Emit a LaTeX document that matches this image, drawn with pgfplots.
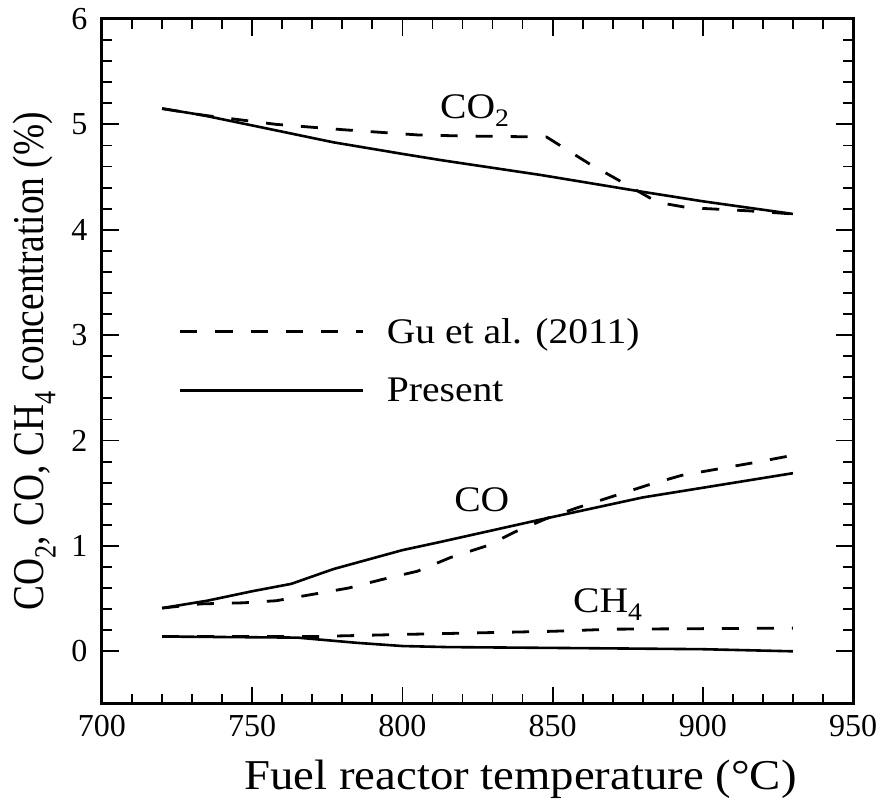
\documentclass[border=0pt]{standalone}
\usepackage{fontspec}
\setmainfont{Liberation Serif}
\newfontfamily\widefont{Liberation Serif}[FakeStretch=1.1]
\newfontfamily\narrowfont{Liberation Serif}[FakeStretch=0.85]
\usepackage{pgfplots}
\pgfplotsset{compat=1.18}

\tikzset{
  gu/.style={black, line width=2.8pt, dash pattern=on 17pt off 18pt},
  present/.style={black, line width=2.6pt},
  lbl/.style={anchor=base west, inner sep=0pt, font=\widefont\fontsize{36}{36}\selectfont},
}

\begin{document}
\begin{tikzpicture}
\begin{axis}[
    name=ax,
    scale only axis,
    width=751pt,
    height=685pt,
    xmin=700, xmax=950,
    ymin=-0.5, ymax=6,
    xtick={700,750,...,950},
    ytick={0,1,...,6},
    minor x tick num=4,
    minor y tick num=4,
    tick align=inside,
    major tick length=17pt,
    minor tick length=10pt,
    tick style={black, line width=1.8pt},
    axis line style={line width=3pt},
    /pgf/number format/assume math mode=true,
    ticklabel style={font=\fontsize{32}{32}\selectfont},
    xticklabel style={yshift=-8pt},
    yticklabel style={xshift=-11pt},
    xlabel={Fuel reactor temperature (°C)},
    ylabel={CO\textsubscript{2}, CO, CH\textsubscript{4} concentration (\%)},
    xlabel style={font=\widefont\fontsize{42.5}{42.5}\selectfont, xshift=43pt, yshift=-16pt},
    ylabel style={font=\narrowfont\fontsize{44}{44}\selectfont, yshift=9pt},
    legend style={draw=none, fill=none, at={(axis cs:724.6,3.18)}, anchor=north west,
      font=\widefont\fontsize{36}{36}\selectfont, row sep=33pt, column sep=23pt,
      nodes={inner sep=0pt}},
    legend cell align=left,
    legend image code/.code={\draw[#1] (0pt,0pt) -- (182pt,0pt);},
]
% CO2
\addplot[gu] coordinates {
  (720,5.15) (733,5.09) (758,5.0) (780,4.95) (805,4.9) (820,4.89) (848,4.88)
  (862,4.63) (872,4.47) (885,4.26) (895,4.21) (915,4.18) (930,4.15)
};
\addlegendentry{Gu et al. (2011)}
\addplot[present] coordinates {
  (720,5.15) (733,5.09) (750,4.99) (777,4.83) (800,4.72) (813,4.66)
  (846,4.52) (880,4.36) (900,4.27) (930,4.15)
};
\addlegendentry{Present}
% CO
\addplot[gu, forget plot] coordinates {
  (720,0.41) (733,0.45) (747,0.46) (758,0.48) (770,0.54) (782,0.60) (793,0.68)
  (805,0.76) (816,0.89) (828,1.0) (838,1.14) (848,1.26) (858,1.36) (870,1.47)
  (882,1.58) (893,1.67) (905,1.73) (917,1.79) (930,1.86)
};
\addplot[present, forget plot] coordinates {
  (720,0.41) (735,0.48) (750,0.57) (763,0.64) (777,0.78) (800,0.96) (813,1.04)
  (846,1.25) (880,1.46) (930,1.69)
};
% CH4
\addplot[gu, forget plot] coordinates {
  (720,0.14) (770,0.14) (800,0.16) (850,0.19) (870,0.21) (930,0.22)
};
\addplot[present, forget plot] coordinates {
  (720,0.14) (765,0.13) (785,0.08) (800,0.05) (815,0.04) (860,0.03) (900,0.02) (930,0.0)
};
\node[lbl] at (axis cs:812.5,5.06) {CO\textsubscript{2}};
\node[lbl] at (axis cs:817.2,1.33) {CO};
\node[lbl] at (axis cs:856.8,0.37) {CH\textsubscript{4}};
\end{axis}
% page margins as in the reference
\path (ax.south west) ++(-102pt,-95pt);
\path (ax.north east) ++(29pt,19pt);
\end{tikzpicture}
\end{document}
